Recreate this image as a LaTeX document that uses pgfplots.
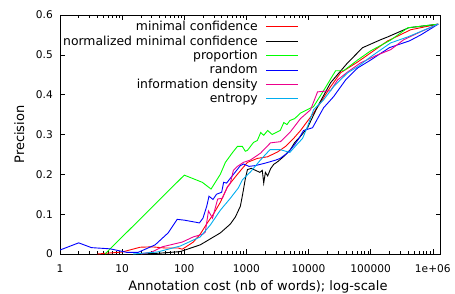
\documentclass[border=0pt]{standalone}
\usepackage{pgfplots}
\pgfplotsset{compat=1.18}
\usepackage{fontspec}
\setmainfont{DejaVu Sans}
\begin{document}
\begin{tikzpicture}
\begin{axis}[
  name=ax,
  scale only axis,
  width=380.5bp, height=239bp,
  xmode=log, xmin=1, xmax=1.33e6, ymin=0, ymax=0.6,
  xtick={1,10,100,1000,10000,100000,1000000},
  xticklabels={1,10,100,1000,10000,100000,1e+06},
  minor xtick={2,3,4,5,6,7,8,9,20,30,40,50,60,70,80,90,200,300,400,500,600,700,800,900,2000,3000,4000,5000,6000,7000,8000,9000,20000,30000,40000,50000,60000,70000,80000,90000,200000,300000,400000,500000,600000,700000,800000,900000},
  ytick={0,0.1,0.2,0.3,0.4,0.5,0.6},
  yticklabels={0,0.1,0.2,0.3,0.4,0.5,0.6},
  /pgf/number format/assume math mode=true,
  tick align=inside,
  major tick length=5bp, minor tick length=3bp,
  every tick/.style={black, line width=0.6bp},
  axis line style={line width=0.8bp},
  ticklabel style={font=\fontsize{10.6bp}{12bp}\selectfont, inner sep=0pt},
  xticklabel style={anchor=base, yshift=-18.7bp},
  yticklabel style={anchor=east, xshift=-7bp},
  xlabel={Annotation cost (nb of words); log-scale},
  ylabel={Precision},
  label style={font=\fontsize{13bp}{15bp}\selectfont, inner sep=0pt},
  xlabel style={at={(rel axis cs:0.52,-0.1527)}, anchor=base},
  ylabel style={at={(rel axis cs:-0.0946,0.5)}, anchor=base},
  legend style={draw=none, fill=none, at={(rel axis cs:0.628,1)}, anchor=north east, yshift=-6.5bp, inner sep=0pt, font=\fontsize{12.4bp}{14bp}\selectfont, row sep=2.9bp, column sep=8bp, nodes={inner sep=0pt, text height=9bp, text depth=2.5bp}},
  legend cell align=right,
  legend plot pos=right,
  legend image code/.code={\draw[#1, line width=1bp] (0bp,0.5bp) -- (32bp,0.5bp);},
  every axis plot/.append style={line width=0.9bp, mark=none},
]
\addplot[red] coordinates {(4,0) (10,0.005) (19.5,0.017) (30,0.018) (50,0.015) (80,0.015) (93,0.012) (140,0.03) (181,0.05) (235,0.078) (294,0.10) (381,0.13) (494,0.168) (552,0.178) (716,0.2) (1038,0.23) (1504,0.24) (2182,0.244) (3162,0.256) (4256,0.27) (5731,0.29) (7432,0.31) (12040,0.354) (15620,0.38) (22640,0.42) (32820,0.455) (61700,0.482) (100000,0.505) (188000,0.535) (441000,0.563) (1.22e6,0.577)};
\addlegendentry{minimal confidence}
\addplot[black] coordinates {(20,0) (40,0.002) (86,0.006) (181,0.023) (381,0.053) (550,0.075) (665,0.093) (800,0.12) (870,0.15) (964,0.19) (1040,0.212) (1200,0.215) (1400,0.21) (1650,0.205) (1800,0.21) (1900,0.178) (2020,0.205) (2200,0.196) (2450,0.214) (2750,0.225) (3200,0.232) (4000,0.245) (5100,0.262) (6000,0.28) (7400,0.295) (9636,0.317) (13970,0.37) (22640,0.43) (42590,0.48) (74300,0.518) (145000,0.538) (188000,0.545) (410000,0.568) (1.22e6,0.577)};
\addlegendentry{normalized minimal confidence}
\addplot[green] coordinates {(5.3,0) (100,0.198) (195,0.18) (270,0.163) (380,0.2) (459,0.23) (600,0.255) (716,0.27) (861,0.27) (960,0.258) (1038,0.26) (1300,0.28) (1500,0.285) (1700,0.305) (1900,0.298) (2200,0.31) (2600,0.3) (3000,0.305) (3500,0.31) (4000,0.33) (4500,0.325) (5000,0.335) (6000,0.34) (7432,0.354) (12040,0.37) (17450,0.41) (27240,0.46) (36700,0.46) (61700,0.487) (100000,0.51) (210000,0.537) (396000,0.568) (1.22e6,0.577)};
\addlegendentry{proportion}
\addplot[blue] coordinates {(1,0.01) (2,0.028) (3.2,0.016) (6.4,0.013) (12,0.004) (18,0.004) (34,0.023) (55,0.053) (77,0.087) (100,0.085) (150,0.08) (175,0.078) (200,0.09) (230,0.12) (250,0.145) (290,0.137) (330,0.15) (400,0.155) (430,0.18) (480,0.178) (550,0.19) (620,0.2) (800,0.222) (900,0.226) (1100,0.22) (1400,0.222) (2000,0.228) (3000,0.236) (3500,0.24) (4700,0.255) (6000,0.275) (7000,0.29) (8300,0.31) (11600,0.317) (17450,0.367) (25300,0.395) (39540,0.437) (61700,0.467) (100000,0.487) (200000,0.518) (420000,0.535) (640000,0.55) (1.22e6,0.577)};
\addlegendentry{random}
\addplot[magenta] coordinates {(20,0) (30,0.005) (44,0.018) (93,0.03) (140,0.043) (200,0.05) (218,0.055) (245,0.108) (285,0.09) (345,0.138) (410,0.14) (494,0.168) (552,0.178) (617,0.21) (716,0.22) (895,0.23) (1161,0.236) (1683,0.253) (2439,0.279) (3533,0.282) (5124,0.307) (7432,0.34) (10770,0.362) (13970,0.407) (22640,0.41) (29370,0.437) (42590,0.457) (69000,0.48) (129700,0.5) (210000,0.513) (341000,0.538) (640000,0.558) (1.22e6,0.577)};
\addlegendentry{information density}
\addplot[cyan] coordinates {(15,0) (37,0.005) (86,0.02) (181,0.043) (263,0.073) (381,0.11) (552,0.14) (743,0.166) (861,0.186) (1161,0.206) (1683,0.236) (2400,0.262) (3500,0.262) (5000,0.255) (6500,0.275) (8000,0.29) (9636,0.32) (12040,0.362) (17450,0.387) (25300,0.42) (42590,0.455) (61700,0.47) (100000,0.495) (210000,0.53) (396000,0.545) (1.22e6,0.577)};
\addlegendentry{entropy}
\end{axis}
\pgfresetboundingbox
\path[use as bounding box] ([shift={(-60bp,-40bp)}]ax.south west) rectangle ([shift={(14.5bp,15bp)}]ax.north east);
\end{tikzpicture}
\end{document}
